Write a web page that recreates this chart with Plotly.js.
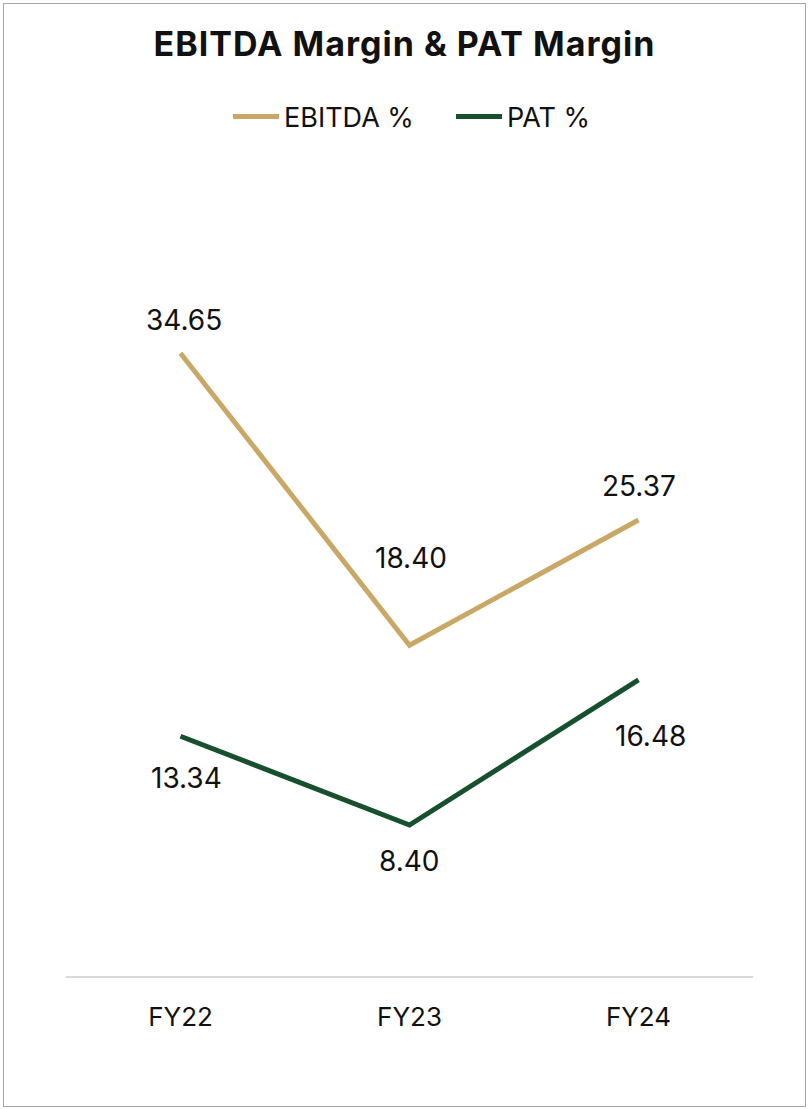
<!DOCTYPE html>
<html>
<head>
<meta charset="utf-8">
<script src="https://cdn.plot.ly/plotly-3.0.1.min.js"></script>
<style>
html,body{margin:0;padding:0;background:#fff;}
#chart{width:809px;height:1109px;}
#frame{position:absolute;left:3px;top:3px;width:801px;height:1102px;border:1.5px solid #a6a6a6;pointer-events:none;}
.gtitle{letter-spacing:1px;}
</style>
</head>
<body>
<div id="chart"></div>
<div id="frame"></div>
<script>
const categories = ["FY22", "FY23", "FY24"];
const ebitda = [34.65, 18.40, 25.37];
const pat = [13.34, 8.40, 16.48];
const seriesNames = ["EBITDA %", "PAT %"];

const gold = "#c9a865";
const green = "#17502d";
const fontFam = "Inter, 'Open Sans', sans-serif";

// label offsets (pixels) — styling only
const ebitdaShift = [{x:3,y:33},{x:1,y:87},{x:0,y:34}];
const patShift = [{x:6,y:-42},{x:0,y:-36},{x:12,y:-56}];

const traces = [
  {x: categories, y: ebitda, name: seriesNames[0], type: "scatter", mode: "lines",
   line: {color: gold, width: 5}},
  {x: categories, y: pat, name: seriesNames[1], type: "scatter", mode: "lines",
   line: {color: green, width: 5}}
];

const annotations = [];
categories.forEach((c, i) => {
  annotations.push({x: c, y: ebitda[i], text: ebitda[i].toFixed(2), showarrow: false,
    xshift: ebitdaShift[i].x, yshift: ebitdaShift[i].y, font: {size: 28, color: "#111", family: fontFam}});
  annotations.push({x: c, y: pat[i], text: pat[i].toFixed(2), showarrow: false,
    xshift: patShift[i].x, yshift: patShift[i].y, font: {size: 28, color: "#111", family: fontFam}});
});

const layout = {
  width: 809, height: 1109,
  margin: {l: 66, r: 56, t: 257, b: 133},
  paper_bgcolor: "#fff", plot_bgcolor: "#fff",
  font: {family: fontFam, color: "#111"},
  title: {text: "<b>EBITDA Margin & PAT Margin</b>", x: 0.5, xanchor: "center",
    yref: "container", y: 1 - 44/1109, yanchor: "middle",
    font: {size: 34, color: "#111", family: fontFam}},
  showlegend: true,
  legend: {orientation: "h", x: 228/809, xanchor: "left", xref: "container",
    yref: "container", y: 1 - 117/1109, yanchor: "middle",
    font: {size: 27, color: "#111", family: fontFam}, itemwidth: 46, entrywidth: 162,
    tracegroupgap: 0},
  xaxis: {type: "category", range: [-0.5, 2.5], showgrid: false, zeroline: false,
    showline: true, linecolor: "#d9d9d9", linewidth: 2,
    ticks: "", tickfont: {size: 26, color: "#111", family: fontFam},
    ticklabelstandoff: 17, fixedrange: true},
  yaxis: {range: [0, 40], visible: false, showgrid: false, zeroline: false, fixedrange: true},
  annotations: annotations
};

Plotly.newPlot("chart", traces, layout, {displayModeBar: false, staticPlot: true});
</script>
</body>
</html>
